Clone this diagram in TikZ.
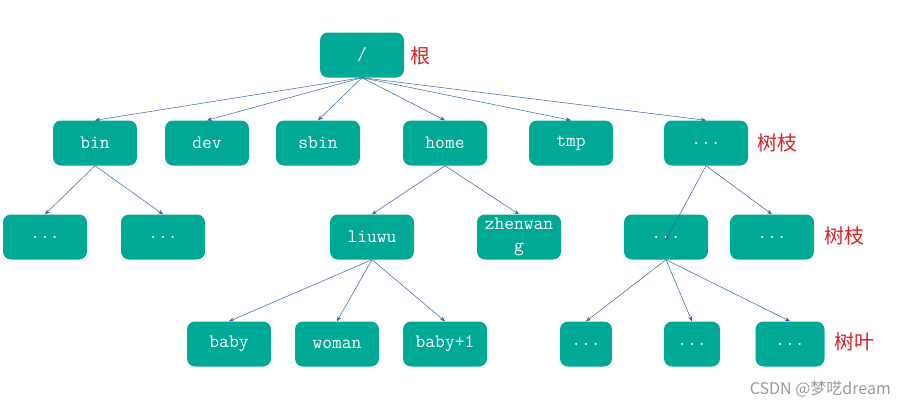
\documentclass[tikz,border=0pt]{standalone}
\usepackage{fontspec}
\newfontfamily\cjk{Noto Sans CJK SC}
\usetikzlibrary{arrows.meta}
\definecolor{boxteal}{RGB}{0,169,150}
\definecolor{edgeblue}{RGB}{46,100,160}
\definecolor{tagred}{RGB}{225,30,35}
\begin{document}
\begin{tikzpicture}[x=1pt, y=-1pt,
    dirbox/.style={fill=boxteal, rounded corners=8pt, minimum width=84pt, minimum height=45pt,
      inner sep=0pt, text=white, font=\ttfamily\fontsize{19}{22}\selectfont, align=center},
    tag/.style={text=tagred, font=\cjk\fontsize{20}{22}\selectfont, anchor=west, inner sep=0pt},
    link/.style={edgeblue, line width=0.5pt, -{Stealth[length=5pt, width=4pt]}}]
    \useasboundingbox (0,0) rectangle (905,408);

    \node[dirbox] (root) at (362, 55) {/};

    \node[dirbox] (bin) at (95, 143) {bin};
    \node[dirbox] (dev) at (207, 143) {dev};
    \node[dirbox] (sbin) at (318, 143) {sbin};
    \node[dirbox] (home) at (445, 143) {home};
    \node[dirbox] (tmp) at (571, 143) {tmp};
    \node[dirbox] (etc) at (706, 143) {...};

    \node[dirbox] (binA) at (45, 237) {...};
    \node[dirbox] (binB) at (163, 237) {...};
    \node[dirbox] (liuwu) at (372, 237) {liuwu};
    \node[dirbox] (zhenwang) at (519, 237) {zhenwan\\g};
    \node[dirbox] (etcA) at (666, 237) {...};
    \node[dirbox] (etcB) at (772, 237) {...};

    \node[dirbox] (baby) at (229, 344) {baby};
    \node[dirbox] (woman) at (337, 344) {woman};
    \node[dirbox] (babyone) at (445, 344) {baby+1};
    \node[dirbox, minimum width=52pt] (leafA) at (586, 344) {...};
    \node[dirbox, minimum width=56pt] (leafB) at (692, 344) {...};
    \node[dirbox, minimum width=69pt] (leafC) at (790, 344) {...};

    \node[tag] (gen) at (410, 56) {根};
    \node[tag] (branchA) at (757, 143) {树枝};
    \node[tag] (branchB) at (824, 236) {树枝};
    \node[tag] (leaf) at (834, 342) {树叶};

    \node[text=gray!80, font=\fontspec{Noto Sans CJK SC}\fontsize{16}{18}\selectfont, anchor=east, inner sep=0pt]
      (mark) at (891, 389) {CSDN @梦呓dream};

    % Arrows
    \draw[link] (root.south) -- (bin.north);
    \draw[link] (root.south) -- (dev.north);
    \draw[link] (root.south) -- (sbin.north);
    \draw[link] (root.south) -- (home.north);
    \draw[link] (root.south) -- (tmp.north);
    \draw[link] (root.south) -- (etc.north);

    \draw[link] (bin.south) -- (binA.north);
    \draw[link] (bin.south) -- (binB.north);
    \draw[link] (home.south) -- (liuwu.north);
    \draw[link] (home.south) -- (zhenwang.north);
    \draw[link] (etc.south) -- ([yshift=-3pt]etcA.center);
    \draw[link] (etc.south) -- (etcB.north);

    \draw[link] (liuwu.south) -- (baby.north);
    \draw[link] (liuwu.south) -- (woman.north);
    \draw[link] (liuwu.south) -- (babyone.north);
    \draw[link] (etcA.south) -- (leafA.north);
    \draw[link] (etcA.south) -- (leafB.north);
    \draw[link] (etcA.south) -- (leafC.north);
  \end{tikzpicture}
\end{document}
